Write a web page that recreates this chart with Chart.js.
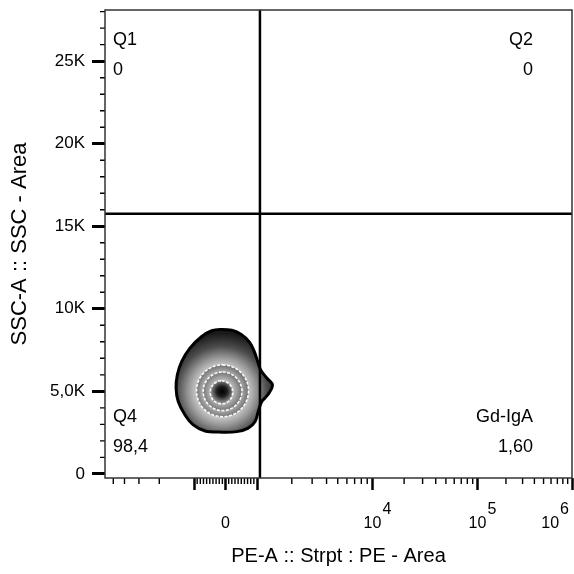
<!DOCTYPE html>
<html>
<head>
<meta charset="utf-8">
<title>PE-A vs SSC-A</title>
<script src="https://cdn.jsdelivr.net/npm/chart.js@4.4.1/dist/chart.umd.min.js"></script>
<style>
  html, body { margin: 0; padding: 0; background: #fff; }
  #wrap { width: 574px; height: 574px; }
</style>
</head>
<body>
<div id="wrap"><canvas id="flowPlot"></canvas></div>
<script>
// axis ranges
const xRange = [-5900, 1000000];
const yRange = [-250, 28100];

// x axis (biexponential) ticks
const xMajorTicks = [-1000, 0, 1000, 10000, 100000, 1000000];
const xMinorTicks = [-5000, -4000, -3000, -2000,
  -900, -800, -700, -600, -500, -400, -300, -200, -100,
  100, 200, 300, 400, 500, 600, 700, 800, 900,
  2000, 3000, 4000, 5000, 6000, 7000, 8000, 9000,
  20000, 30000, 40000, 50000, 60000, 70000, 80000, 90000,
  200000, 300000, 400000, 500000, 600000, 700000, 800000, 900000];
const xLabelValues = [0, 10000, 100000, 1000000];
const xLabelBase = ['0', '10', '10', '10'];
const xLabelExp = ['', '4', '5', '6'];

// y axis ticks
const yMajorTicks = [0, 5000, 10000, 15000, 20000, 25000];
const yTickLabels = ['0', '5,0K', '10K', '15K', '20K', '25K'];
const yMinorTicks = [1000, 2000, 3000, 4000, 6000, 7000, 8000, 9000,
  11000, 12000, 13000, 14000, 16000, 17000, 18000, 19000,
  21000, 22000, 23000, 24000, 26000, 27000, 28000];

// quadrant gate
const gateX = 1060;
const gateY = 15750;
const quadNames = ['Q1', 'Q2', 'Q4', 'Gd-IgA'];
const quadValues = ['0', '0', '98,4', '1,60'];

// population contours (PE-A, SSC-A), outermost first
const contourOuter = [[-175, 8750], [200, 8700], [500, 8450], [760, 7980], [920, 7380], [1020, 6750],
  [1075, 6300], [1210, 5820], [1360, 5390], [1240, 4790], [1100, 4380], [1025, 3780], [940, 3170],
  [720, 2770], [360, 2560], [-175, 2530], [-650, 2600], [-1015, 2970], [-1200, 3580], [-1370, 4380],
  [-1430, 5190], [-1395, 6000], [-1280, 6800], [-1085, 7620], [-755, 8320], [-440, 8670]];
const contourRing1 = [[-95, 6600], [490, 6140], [730, 5030], [490, 3920], [-95, 3460], [-680, 3920], [-920, 5030], [-680, 6140]];
const contourRing2 = [[-95, 6170], [340, 5820], [520, 5000], [340, 4180], [-95, 3830], [-530, 4180], [-710, 5000], [-530, 5820]];
const contourRing3 = [[-125, 5640], [125, 5430], [230, 4940], [125, 4450], [-125, 4240], [-380, 4450], [-485, 4940], [-380, 5430]];
const popCenter = [-110, 5000];

// biexponential display: linear around zero, then decades
const biexLinear = 1000;
const biexDecades = [[1e3, 0.3], [1e4, 1.4], [1e5, 2.4], [1e6, 3.3]];

function biex(v) {
  const m = Math.abs(v), s = v < 0 ? -1 : 1;
  if (m <= biexLinear) return s * biexDecades[0][1] * m / biexLinear;
  let i = 1;
  while (i < biexDecades.length - 1 && m > biexDecades[i][0]) i++;
  const [m0, t0] = biexDecades[i - 1], [m1, t1] = biexDecades[i];
  return s * (t0 + (t1 - t0) * Math.log10(m / m0) / Math.log10(m1 / m0));
}

function unbiex(t) {
  const a = Math.abs(t), s = t < 0 ? -1 : 1;
  if (a <= biexDecades[0][1]) return s * a / biexDecades[0][1] * biexLinear;
  let i = 1;
  while (i < biexDecades.length - 1 && a > biexDecades[i][1]) i++;
  const [m0, t0] = biexDecades[i - 1], [m1, t1] = biexDecades[i];
  return s * m0 * Math.pow(m1 / m0, (a - t0) / (t1 - t0));
}

class BiexScale extends Chart.Scale {
  determineDataLimits() {
    this.min = this.options.min;
    this.max = this.options.max;
  }
  buildTicks() {
    return xMajorTicks.map(v => ({ value: v }));
  }
  getLabelForValue(v) {
    return String(v);
  }
  configure() {
    super.configure();
    this._lo = biex(this.min);
    this._hi = biex(this.max);
  }
  getPixelForValue(v) {
    return this.getPixelForDecimal((biex(v) - this._lo) / (this._hi - this._lo));
  }
  getValueForPixel(p) {
    return unbiex(this._lo + this.getDecimalForPixel(p) * (this._hi - this._lo));
  }
}
BiexScale.id = 'biex';
BiexScale.defaults = {};
Chart.register(BiexScale);

const FONT = '"Liberation Sans", Arial, sans-serif';
const toPoints = arr => arr.map(([x, y]) => ({ x, y }));

// radial zebra shading around the population centre
function shade(stops) {
  return (c) => {
    const chart = c.chart;
    const sx = chart.scales.x, sy = chart.scales.y;
    if (!chart.chartArea || !sx || !sy) return stops[stops.length - 1][1];
    const cx = sx.getPixelForValue(popCenter[0]);
    const cy = sy.getPixelForValue(popCenter[1]);
    const rMax = stops[stops.length - 1][0];
    const g = chart.ctx.createRadialGradient(cx, cy, 0, cx, cy, rMax);
    stops.forEach(([r, col]) => g.addColorStop(r / rMax, col));
    return g;
  };
}

// make contour lines closed smooth loops
const closedLoops = {
  id: 'closedLoops',
  afterDatasetUpdate(chart, args) {
    const ds = chart.data.datasets[args.index];
    if (ds.closed && args.meta.dataset) {
      args.meta.dataset._loop = true;
      args.meta.dataset._fullLoop = true;
    }
  }
};

const flowDecor = {
  id: 'flowDecor',
  afterDraw(chart) {
    const { ctx, chartArea: a, scales: { x, y } } = chart;
    ctx.save();

    // minor ticks
    ctx.strokeStyle = '#000';
    ctx.lineWidth = 1.4;
    ctx.beginPath();
    xMinorTicks.forEach(v => {
      const px = x.getPixelForValue(v);
      ctx.moveTo(px, a.bottom);
      ctx.lineTo(px, a.bottom + 6);
    });
    yMinorTicks.forEach(v => {
      const py = y.getPixelForValue(v);
      ctx.moveTo(a.left, py);
      ctx.lineTo(a.left - 5, py);
    });
    ctx.stroke();

    // plot frame
    ctx.strokeStyle = '#333';
    ctx.lineWidth = 1.5;
    ctx.strokeRect(a.left, a.top, a.right - a.left, a.bottom - a.top);

    // x labels with exponents
    ctx.fillStyle = '#000';
    ctx.font = '16px ' + FONT;
    ctx.textBaseline = 'middle';
    ctx.textAlign = 'left';
    xLabelValues.forEach((v, i) => {
      const px = x.getPixelForValue(v);
      const wb = ctx.measureText(xLabelBase[i]).width;
      const we = xLabelExp[i] ? ctx.measureText(xLabelExp[i]).width + 1 : 0;
      const left = Math.min(px - wb / 2, chart.width - 5 - wb - we);
      ctx.fillText(xLabelBase[i], left, a.bottom + 46);
      if (xLabelExp[i]) ctx.fillText(xLabelExp[i], left + wb + 1, a.bottom + 32);
    });

    // quadrant names and percentages
    ctx.font = '18px ' + FONT;
    const lx = a.left + 8, rx = a.right - 39;
    const spots = [[lx, a.top + 30, 'left'], [rx, a.top + 30, 'right'],
                   [lx, a.bottom - 61, 'left'], [rx, a.bottom - 61, 'right']];
    spots.forEach(([px, py, align], i) => {
      ctx.textAlign = align;
      ctx.fillText(quadNames[i], px, py);
      ctx.fillText(quadValues[i], px, py + 30);
    });
    ctx.restore();
  }
};

new Chart(document.getElementById('flowPlot'), {
  type: 'line',
  data: {
    datasets: [
      {
        label: 'gate x',
        data: [{ x: gateX, y: yRange[0] }, { x: gateX, y: yRange[1] }],
        borderColor: '#000', borderWidth: 2.5, fill: false, tension: 0, order: 0
      },
      {
        label: 'gate y',
        data: [{ x: xRange[0], y: gateY }, { x: xRange[1], y: gateY }],
        borderColor: '#000', borderWidth: 2.5, fill: false, tension: 0, order: 0
      },
      {
        label: 'level 3', closed: true,
        data: toPoints(contourRing3),
        fill: 'shape', tension: 0.38, order: 1,
        backgroundColor: shade([[0, '#000'], [5, '#1c1c1c'], [12, '#9a9a9a']]),
        borderColor: 'rgba(255,255,255,0.95)', borderWidth: 1.6, borderDash: [3, 1.5]
      },
      {
        label: 'level 2', closed: true,
        data: toPoints(contourRing2),
        fill: 'shape', tension: 0.38, order: 2,
        backgroundColor: shade([[11, '#bcbcbc'], [21, '#666']]),
        borderColor: 'rgba(255,255,255,0.95)', borderWidth: 1.6, borderDash: [3, 1.5]
      },
      {
        label: 'level 1', closed: true,
        data: toPoints(contourRing1),
        fill: 'shape', tension: 0.38, order: 3,
        backgroundColor: shade([[18, '#b8b8b8'], [28, '#626262']]),
        borderColor: 'rgba(255,255,255,0.95)', borderWidth: 1.6, borderDash: [3, 1.5]
      },
      {
        label: 'outer', closed: true,
        data: toPoints(contourOuter),
        fill: 'shape', tension: 0.35, order: 4,
        backgroundColor: shade([[24, '#d2d2d2'], [34, '#969696'], [45, '#4c4c4c'], [58, '#1a1a1a']]),
        borderColor: '#000', borderWidth: 3
      }
    ]
  },
  options: {
    responsive: true,
    maintainAspectRatio: false,
    animation: false,
    devicePixelRatio: 1,
    layout: { padding: { top: 10, right: 2, bottom: 0, left: 0 } },
    elements: { point: { radius: 0, hoverRadius: 0 } },
    plugins: {
      legend: { display: false },
      tooltip: { enabled: false }
    },
    scales: {
      x: {
        type: 'biex',
        min: xRange[0],
        max: xRange[1],
        afterFit: s => { s.height = 96; s.paddingLeft = 0; s.paddingRight = 0; },
        border: { display: false },
        grid: { drawOnChartArea: false, drawTicks: true, tickLength: 12, tickWidth: 2.5, tickColor: '#000' },
        ticks: { display: false },
        title: {
          display: true,
          text: 'PE-A :: Strpt : PE - Area',
          color: '#000',
          font: { family: FONT, size: 20 },
          padding: { top: 0, bottom: 6 }
        }
      },
      y: {
        type: 'linear',
        min: yRange[0],
        max: yRange[1],
        afterBuildTicks: s => { s.ticks = yMajorTicks.map(v => ({ value: v })); },
        afterFit: s => { s.width = 105; s.paddingTop = 0; s.paddingBottom = 0; },
        border: { display: false },
        grid: { drawOnChartArea: false, drawTicks: true, tickLength: 13, tickWidth: 3, tickColor: '#000' },
        ticks: {
          color: '#000',
          font: { family: FONT, size: 17 },
          padding: 7,
          callback: v => yTickLabels[yMajorTicks.indexOf(v)]
        },
        title: {
          display: true,
          text: 'SSC-A :: SSC - Area',
          color: '#000',
          font: { family: FONT, size: 22 },
          padding: { top: 7, bottom: 0 }
        }
      }
    }
  },
  plugins: [closedLoops, flowDecor]
});
</script>
</body>
</html>
